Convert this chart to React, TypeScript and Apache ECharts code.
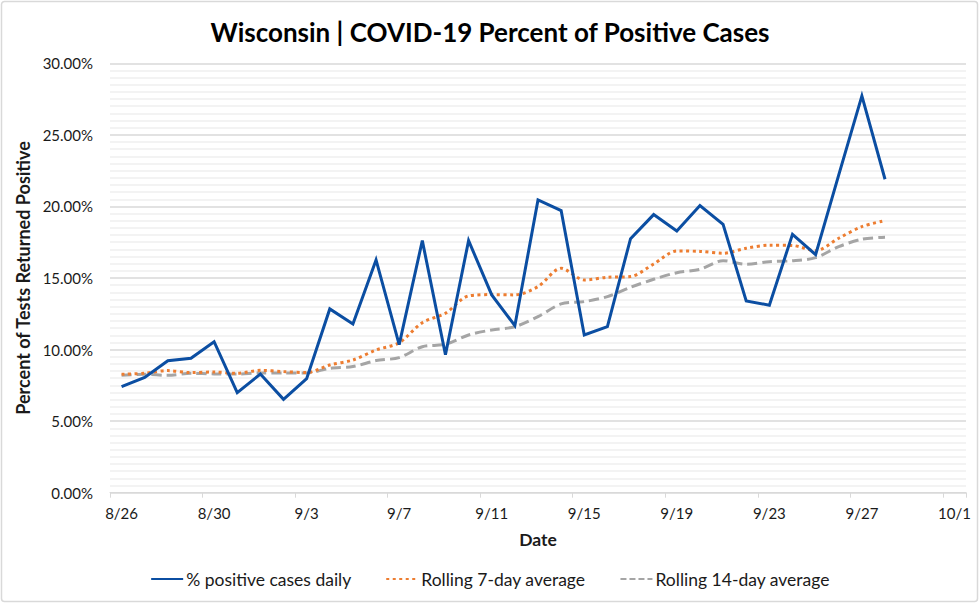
import React, { useEffect, useRef } from "react";
import * as echarts from "echarts";

const dates = [
  "8/26", "8/27", "8/28", "8/29", "8/30", "8/31", "9/1", "9/2", "9/3", "9/4",
  "9/5", "9/6", "9/7", "9/8", "9/9", "9/10", "9/11", "9/12", "9/13", "9/14",
  "9/15", "9/16", "9/17", "9/18", "9/19", "9/20", "9/21", "9/22", "9/23", "9/24",
  "9/25", "9/26", "9/27", "9/28", "9/29", "9/30", "10/1",
];

const dailyPositive = [
  7.41, 8.05, 9.22, 9.39, 10.55, 6.99, 8.29, 6.52, 7.97, 12.84,
  11.79, 16.26, 10.34, 17.61, 9.64, 17.61, 13.82, 11.67, 20.45, 19.71,
  11.02, 11.6, 17.75, 19.43, 18.29, 20.06, 18.75, 13.4, 13.1, 18.05,
  16.63, 22.2, 27.72, 21.9,
];

const rolling7 = [
  8.27, 8.35, 8.53, 8.39, 8.43, 8.34, 8.55, 8.46, 8.39, 8.92,
  9.27, 9.97, 10.48, 11.88, 12.54, 13.75, 13.84, 13.82, 14.4, 15.68,
  14.86, 15.05, 15.1, 15.98, 16.89, 16.86, 16.73, 17.08, 17.29, 17.27,
  16.91, 17.78, 18.59, 19.01,
];

const rolling14 = [
  8.2, 8.27, 8.2, 8.34, 8.3, 8.29, 8.37, 8.37, 8.37, 8.69,
  8.81, 9.23, 9.44, 10.2, 10.37, 11.02, 11.37, 11.6, 12.3, 13.19,
  13.35, 13.7, 14.35, 14.91, 15.37, 15.61, 16.21, 15.96, 16.14, 16.2,
  16.42, 17.19, 17.71, 17.85,
];

const FONT = "Lato, 'Open Sans', sans-serif";
const TEXT = "#1a1a1a";

export default function App() {
  const ref = useRef<HTMLDivElement>(null);

  useEffect(() => {
    const chart = echarts.init(ref.current!, null, { renderer: "svg" });
    chart.setOption({
      animation: false,
      backgroundColor: "#ffffff",
      textStyle: { fontFamily: FONT },
      title: {
        text: "Wisconsin | COVID-19 Percent of Positive Cases",
        left: "center",
        top: 14,
        textStyle: { fontFamily: FONT, fontSize: 26, fontWeight: "bold", color: "#000" },
      },
      graphic: [
        {
          type: "rect",
          shape: { x: 1.5, y: 1.5, width: 976, height: 600, r: 3 },
          style: { fill: "none", stroke: "#d9d9d9", lineWidth: 1.5 },
          silent: true,
          z: -1,
        },
      ],
      grid: { left: 110, right: 14, top: 63.3, bottom: 111.3, containLabel: false },
      legend: {
        bottom: 11,
        left: "center",
        itemWidth: 32,
        itemHeight: 12,
        itemGap: 34,
        itemStyle: { opacity: 0 },
        textStyle: { fontFamily: FONT, fontSize: 17.5, color: TEXT, padding: [0, 0, 0, -2] },
        data: [
          { name: "% positive cases daily" },
          { name: "Rolling 7-day average" },
          { name: "Rolling 14-day average", lineStyle: { type: [6, 3] } },
        ],
      },
      xAxis: {
        type: "category",
        data: dates,
        boundaryGap: true,
        name: "Date",
        nameLocation: "middle",
        nameGap: 38,
        nameTextStyle: { fontFamily: FONT, fontSize: 17.5, fontWeight: "bold", color: TEXT },
        axisLine: { lineStyle: { color: "#d9d9d9", width: 1 } },
        axisTick: { show: true, interval: 3, length: 5, lineStyle: { color: "#d9d9d9" } },
        axisLabel: { interval: 3, fontSize: 15, color: TEXT, margin: 13, fontFamily: FONT },
        splitLine: { show: false },
      },
      yAxis: {
        type: "value",
        min: 0,
        max: 30,
        interval: 5,
        name: "Percent of Tests Returned Positive",
        nameLocation: "middle",
        nameGap: 73,
        nameRotate: 90,
        nameTextStyle: { fontFamily: FONT, fontSize: 18, fontWeight: "bold", color: TEXT },
        axisLine: { show: false },
        axisTick: { show: false },
        axisLabel: {
          fontSize: 15,
          color: TEXT,
          margin: 17,
          fontFamily: FONT,
          formatter: (v: number) => `${v.toFixed(2)}%`,
        },
        splitLine: { show: true, lineStyle: { color: "#d9d9d9", width: 1.5 } },
        minorTick: { show: false, splitNumber: 10 },
        minorSplitLine: { show: true, lineStyle: { color: "#efefef", width: 1.5 } },
      },
      series: [
        {
          name: "% positive cases daily",
          type: "line",
          data: dailyPositive,
          symbol: "none",
          color: "#0b4ea2",
          lineStyle: { color: "#0b4ea2", width: 3, join: "miter" },
          z: 3,
        },
        {
          name: "Rolling 7-day average",
          type: "line",
          data: rolling7,
          symbol: "none",
          smooth: 0.3,
          color: "#ed7d31",
          lineStyle: { color: "#ed7d31", width: 3, type: [3, 3.5] },
          z: 2,
        },
        {
          name: "Rolling 14-day average",
          type: "line",
          data: rolling14,
          symbol: "none",
          smooth: 0.3,
          color: "#a5a5a5",
          lineStyle: { color: "#a5a5a5", width: 3, type: [10, 5] },
          z: 1,
        },
      ],
    });
    return () => chart.dispose();
  }, []);

  return (
    <div
      ref={ref}
      style={{ position: "absolute", left: 0, top: 0, width: 980, height: 604 }}
    />
  );
}
